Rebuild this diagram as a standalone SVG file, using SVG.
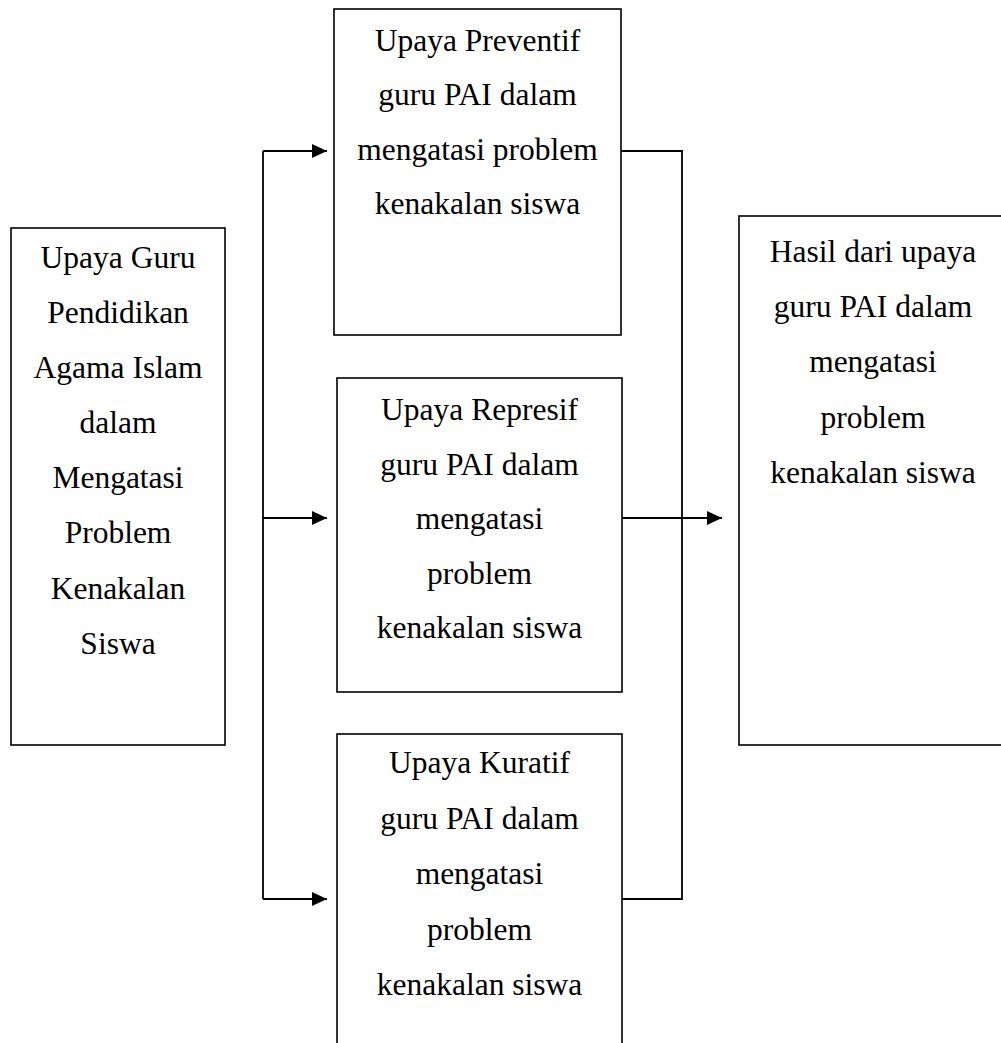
<svg xmlns="http://www.w3.org/2000/svg" width="1001" height="1043" viewBox="0 0 1001 1043">
<style>
.box{fill:#fff;stroke:#000;stroke-width:1.6}
.t{font-family:"Liberation Serif","Times New Roman",serif;font-size:31.5px;fill:#000;text-anchor:middle}
.c{fill:none;stroke:#000;stroke-width:1.8}
</style>
<defs>
<marker id="ah" markerUnits="userSpaceOnUse" markerWidth="16" markerHeight="16" refX="15" refY="7" orient="auto">
<path d="M0,0 L15,7 L0,14 z" fill="#000"/>
</marker>
</defs>
<rect width="1001" height="1043" fill="#fff"/>
<g id="connectors">
<path class="c" d="M263,151 V899"/>
<path class="c" d="M263,151 H327" marker-end="url(#ah)"/>
<path class="c" d="M263,518 H327" marker-end="url(#ah)"/>
<path class="c" d="M263,899 H327" marker-end="url(#ah)"/>
<path class="c" d="M621,151 H682 V899 H622"/>
<path class="c" d="M622,518 H722" marker-end="url(#ah)"/>
</g>
<g id="node-left">
<rect class="box" x="11" y="228" width="214" height="517"/>
<text class="t" x="118" y="268">Upaya Guru</text>
<text class="t" x="118" y="323">Pendidikan</text>
<text class="t" x="118" y="378">Agama Islam</text>
<text class="t" x="118" y="433">dalam</text>
<text class="t" x="118" y="488">Mengatasi</text>
<text class="t" x="118" y="543">Problem</text>
<text class="t" x="118" y="599">Kenakalan</text>
<text class="t" x="118" y="654">Siswa</text>
</g>
<g id="node-preventif">
<rect class="box" x="334" y="9" width="287" height="326"/>
<text class="t" x="477.5" y="50.5">Upaya Preventif</text>
<text class="t" x="477.5" y="105">guru PAI dalam</text>
<text class="t" x="477.5" y="159.5">mengatasi problem</text>
<text class="t" x="477.5" y="214">kenakalan siswa</text>
</g>
<g id="node-represif">
<rect class="box" x="337" y="378" width="285" height="314"/>
<text class="t" x="479.5" y="420">Upaya Represif</text>
<text class="t" x="479.5" y="474.5">guru PAI dalam</text>
<text class="t" x="479.5" y="529">mengatasi</text>
<text class="t" x="479.5" y="583.5">problem</text>
<text class="t" x="479.5" y="638">kenakalan siswa</text>
</g>
<g id="node-kuratif">
<rect class="box" x="337" y="734" width="285" height="320"/>
<text class="t" x="479.5" y="773">Upaya Kuratif</text>
<text class="t" x="479.5" y="828.5">guru PAI dalam</text>
<text class="t" x="479.5" y="884">mengatasi</text>
<text class="t" x="479.5" y="939.5">problem</text>
<text class="t" x="479.5" y="995">kenakalan siswa</text>
</g>
<g id="node-hasil">
<rect class="box" x="739" y="216" width="280" height="529"/>
<text class="t" x="873" y="262">Hasil dari upaya</text>
<text class="t" x="873" y="317">guru PAI dalam</text>
<text class="t" x="873" y="372">mengatasi</text>
<text class="t" x="873" y="428">problem</text>
<text class="t" x="873" y="483">kenakalan siswa</text>
</g>
</svg>
